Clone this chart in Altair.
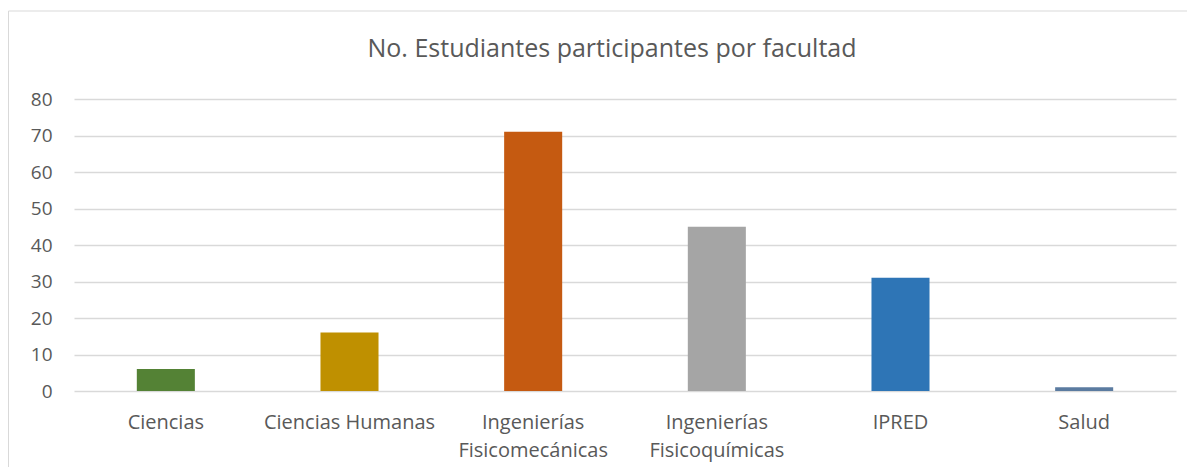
import altair as alt
import pandas as pd

categories = ["Ciencias", "Ciencias Humanas", "Ingenierías\nFisicomecánicas",
              "Ingenierías\nFisicoquímicas", "IPRED", "Salud"]
values = [6, 16, 71, 45, 31, 1]
colors = ["#548235", "#BF9000", "#C55A11", "#A5A5A5", "#2E75B6", "#5B7BA0"]
y_ticks = [0, 10, 20, 30, 40, 50, 60, 70, 80]
title_text = "No. Estudiantes participantes por facultad"

df = pd.DataFrame({"facultad": categories, "n": values})

W, H = 1102, 292
FONT = "Open Sans"
TXT = "#595959"

frame = alt.Chart(pd.DataFrame({"a": [0]})).mark_rect(
    fillOpacity=0, stroke="#D9D9D9", strokeWidth=1
).encode(
    x=alt.value(-65.5), x2=alt.value(W + 40),
    y=alt.value(-88), y2=alt.value(H + 120)
)

title = alt.Chart(pd.DataFrame({"t": [title_text]})).mark_text(
    font=FONT, fontSize=25, color=TXT, align="center", baseline="middle"
).encode(
    text="t:N", x=alt.value(W / 2 - 13), y=alt.value(-50)
)

bars = alt.Chart(df).mark_bar().encode(
    x=alt.X("facultad:N", sort=None,
            scale=alt.Scale(paddingInner=0.684, paddingOuter=0.342),
            axis=alt.Axis(title=None, labelAngle=0, domain=False, ticks=False,
                          labelPadding=21, labelFontSize=20, labelColor=TXT,
                          labelFont=FONT, labelLineHeight=28,
                          labelExpr="split(datum.label, '\\n')")),
    y=alt.Y("n:Q", scale=alt.Scale(domain=[0, 80], nice=False),
            axis=alt.Axis(title=None, values=y_ticks, domain=False, ticks=False,
                          labelPadding=22, labelFontSize=19, labelColor=TXT,
                          labelFont=FONT, gridColor="#D9D9D9", gridWidth=1.5)),
    color=alt.Color("facultad:N", sort=None,
                    scale=alt.Scale(domain=categories, range=colors), legend=None),
)

chart = alt.layer(frame, title, bars).properties(
    width=W, height=H,
    autosize=alt.AutoSizeParams(type="none"),
    padding={"left": 66, "top": 91, "right": 11, "bottom": 76},
).configure_view(stroke=None)

chart.save("out.html", embed_options={"renderer": "svg", "actions": False})
